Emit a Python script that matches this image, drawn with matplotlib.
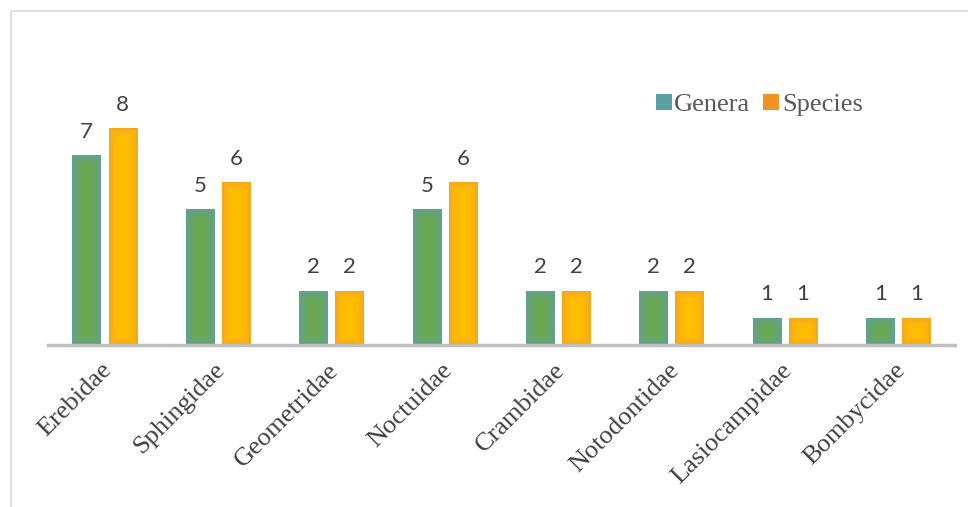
import numpy as np
import matplotlib
matplotlib.use("Agg")
import matplotlib.pyplot as plt
from matplotlib.patches import Rectangle, Patch
from matplotlib.colors import to_rgb
from matplotlib.transforms import ScaledTranslation

families = ["Erebidae", "Sphingidae", "Geometridae", "Noctuidae",
            "Crambidae", "Notodontidae", "Lasiocampidae", "Bombycidae"]
genera = [7, 5, 2, 5, 2, 2, 1, 1]
species = [8, 6, 2, 6, 2, 2, 1, 1]

fig = plt.figure(figsize=(9.68, 5.07), dpi=100)
# outer chart frame (light gray)
fig.patches.append(Rectangle((11 / 968, -0.1), 1.2, 1 - 11 / 507 + 0.1,
                             transform=fig.transFigure, fill=False,
                             edgecolor="#d9d9d9", linewidth=1.2))

ax = fig.add_axes([48 / 968, 1 - 345 / 507, (955 - 48) / 968, 324 / 507])
x = np.arange(len(families))
w = 0.25
off = 0.159

def grad_img(center, edge, hpx, wpx, band=13.0):
    c = np.array(to_rgb(center)); e = np.array(to_rgb(edge))
    hpx = max(int(hpx), 2); wpx = max(int(wpx), 2)
    yy, xx = np.mgrid[0:hpx, 0:wpx]
    dx = np.minimum(xx + 0.5, wpx - xx - 0.5)
    dy = np.minimum(yy + 0.5, hpx - yy - 0.5)
    d = np.minimum(dx, dy)
    t = np.clip(1 - d / band, 0, 1) ** 1.8
    return c[None, None, :] * (1 - t[..., None]) + e[None, None, :] * t[..., None]

px_per_unit = 27.0
b1 = ax.bar(x - off, genera, w, color="#64a090", label="Genera", zorder=2)
b2 = ax.bar(x + off, species, w, color="#fab018", label="Species", zorder=2)
for bars, cc, ec in [(b1, "#6aa84f", "#61a098"), (b2, "#ffc000", "#f6a51e")]:
    for r in bars:
        x0, y0 = r.get_x(), r.get_y()
        bw, bh = r.get_width(), r.get_height()
        img = grad_img(cc, ec, bh * px_per_unit, 28)
        ax.imshow(img, extent=(x0, x0 + bw, y0, y0 + bh), aspect="auto",
                  zorder=3, interpolation="bilinear", origin="lower")
        ax.annotate(f"{int(bh)}", (x0 + bw / 2, bh), xytext=(0, 10),
                    textcoords="offset points", ha="center", va="bottom",
                    fontsize=16, color="#404040", family="Lato", zorder=4)

ax.set_xlim(-0.5, len(families) - 0.5)
ax.set_ylim(0, 12)
ax.set_yticks([])
for s in ["top", "right", "left"]:
    ax.spines[s].set_visible(False)
ax.spines["bottom"].set_color("#bfbfbf")
ax.spines["bottom"].set_linewidth(2.5)
ax.spines["bottom"].set_zorder(5)
ax.set_xticks(x)
ax.set_xticklabels(families, rotation=45, ha="right", va="top",
                   rotation_mode="anchor", fontsize=19,
                   family="Liberation Serif", color="#404040")
ax.tick_params(axis="x", length=0, pad=10)
shift = ScaledTranslation(-4 / 100, 0, fig.dpi_scale_trans)
for lbl in ax.get_xticklabels():
    lbl.set_transform(lbl.get_transform() + shift)

handles = [Patch(facecolor="#5a9fa3", label="Genera"),
           Patch(facecolor="#f29222", label="Species")]
leg = ax.legend(handles=handles, loc="center left",
                bbox_to_anchor=(0.670, 0.741), ncol=2,
                frameon=False, prop={"family": "Liberation Serif", "size": 19},
                handlelength=0.6, handleheight=0.6, handletextpad=0.1,
                columnspacing=0.5, labelcolor="#595959", borderaxespad=0,
                borderpad=0)

fig.savefig("out.png", dpi=100)
